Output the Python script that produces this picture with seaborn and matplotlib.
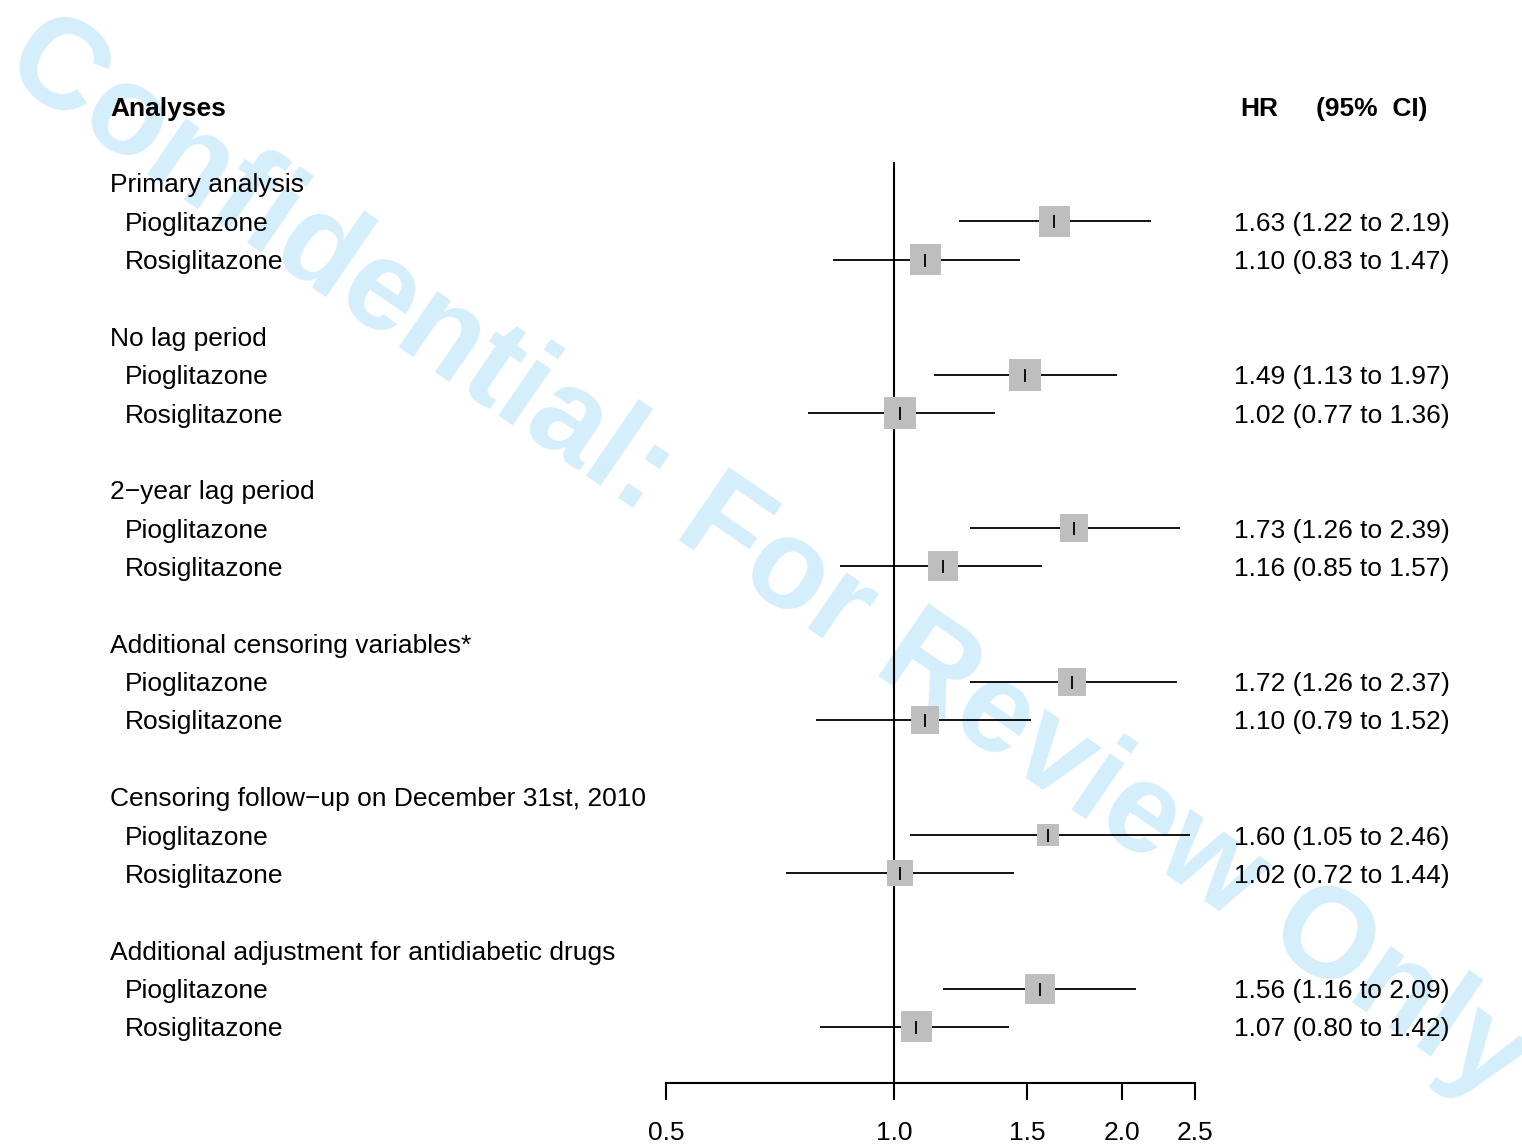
import numpy as np
import pandas as pd
import matplotlib
matplotlib.use("Agg")
import matplotlib.pyplot as plt
import matplotlib.transforms as mtransforms
import seaborn as sns

# data
groups = ["Primary analysis", "No lag period", "2\u2212year lag period",
          "Additional censoring variables*",
          "Censoring follow\u2212up on December 31st, 2010",
          "Additional adjustment for antidiabetic drugs"]
drugs = ["Pioglitazone", "Rosiglitazone"]
hr = [1.63, 1.10, 1.49, 1.02, 1.73, 1.16, 1.72, 1.10, 1.60, 1.02, 1.56, 1.07]
lo = [1.22, 0.83, 1.13, 0.77, 1.26, 0.85, 1.26, 0.79, 1.05, 0.72, 1.16, 0.80]
hi = [2.19, 1.47, 1.97, 1.36, 2.39, 1.57, 2.37, 1.52, 2.46, 1.44, 2.09, 1.42]
box_w = [31, 31, 32, 32, 28, 30, 28, 28, 22, 26, 30, 31]  # square width in px
x_ticks = [0.5, 1.0, 1.5, 2.0, 2.5]

rows = []
for g in range(len(groups)):
    for d in range(2):
        i = 2 * g + d
        rows.append(dict(group=groups[g], drug=drugs[d], row=3 + 4 * g + d,
                         hr=hr[i], lo=lo[i], hi=hi[i], w=box_w[i]))
df = pd.DataFrame(rows)
df["label"] = df.apply(lambda r: f"{r.hr:.2f} ({r.lo:.2f} to {r.hi:.2f})", axis=1)

sns.set_style("white")
plt.rcParams["font.family"] = ["Liberation Sans", "DejaVu Sans"]
plt.rcParams["text.color"] = "black"

fig = plt.figure(figsize=(15.22, 11.46), dpi=100)
ax = fig.add_axes([666 / 1522, 1 - 1083 / 1146, 529 / 1522, (1083 - 162) / 1146])
ax.patch.set_visible(False)

# watermark behind everything
fig.text(0.5035, 1 - 560 / 1146, "Confidential: For Review Only", rotation=-34.5,
         ha="center", va="center", rotation_mode="anchor", fontsize=92,
         fontweight="bold", color="#d4eefb", zorder=-5)

ax.set_xscale("log")
ax.set_xlim(0.5, 2.5)
ax.set_ylim(25.46, 1.459)

ax.axvline(1.0, color="black", lw=1.5, zorder=1)
ax.hlines(df["row"], df["lo"], df["hi"], color="black", lw=1.3, zorder=2, clip_on=False)

px2pt = 72 / 100
sizes = {w: (w * px2pt) ** 2 for w in df["w"].unique()}
sns.scatterplot(data=df, x="hr", y="row", size="w", sizes=sizes, marker="s",
                color="#bebebe", edgecolor="none", linewidth=0, legend=False,
                ax=ax, zorder=3, clip_on=False)
ax.scatter(df["hr"], df["row"], marker="|", s=(13 * px2pt) ** 2,
           color="black", linewidths=1.3, zorder=4, clip_on=False)

# axis styling
for s in ["top", "right", "left"]:
    ax.spines[s].set_visible(False)
ax.spines["bottom"].set_linewidth(1.5)
ax.spines["bottom"].set_color("black")
ax.set_xticks(x_ticks)
ax.set_xticklabels([f"{t:.1f}" for t in x_ticks], fontsize=19)
ax.xaxis.set_minor_locator(matplotlib.ticker.NullLocator())
ax.tick_params(axis="x", direction="out", length=12.5, width=1.5, pad=15,
               bottom=True, colors="black")
ax.set_yticks([])
ax.set_xlabel("")
ax.set_ylabel("")

tr = mtransforms.blended_transform_factory(fig.transFigure, ax.transData)
fs = 19
ax.text(110 / 1522, 0, "Analyses", transform=tr, fontsize=fs, fontweight="bold",
        va="center_baseline", ha="left", clip_on=False)
ax.text(1240 / 1522, 0, "HR", transform=tr, fontsize=fs, fontweight="bold",
        va="center_baseline", ha="left", clip_on=False)
ax.text(1316 / 1522, 0, "(95%  CI)", transform=tr, fontsize=fs, fontweight="bold",
        va="center_baseline", ha="left", clip_on=False)
for g, name in enumerate(groups):
    ax.text(110 / 1522, 2 + 4 * g, name, transform=tr, fontsize=fs,
            va="center_baseline", ha="left", clip_on=False)
for _, r in df.iterrows():
    ax.text(125 / 1522, r.row, r.drug, transform=tr, fontsize=fs,
            va="center_baseline", ha="left", clip_on=False)
    ax.text(1234 / 1522, r.row, r.label, transform=tr, fontsize=fs,
            va="center_baseline", ha="left", clip_on=False)

fig.savefig("out.png", dpi=100)
